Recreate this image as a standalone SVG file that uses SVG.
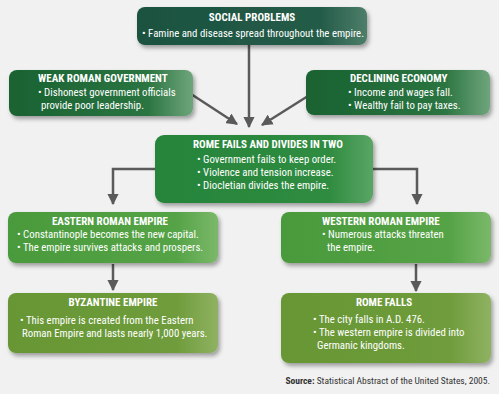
<svg xmlns="http://www.w3.org/2000/svg" width="499" height="394" viewBox="0 0 499 394">
<defs>
<linearGradient id="gTeal" x1="0" y1="0" x2="1" y2="0"><stop offset="0" stop-color="#1b5240"/><stop offset="0.8" stop-color="#245c48"/><stop offset="1" stop-color="#4d7e6a"/></linearGradient>
<linearGradient id="gDark" x1="0" y1="0" x2="1" y2="0"><stop offset="0" stop-color="#1a6232"/><stop offset="0.75" stop-color="#2a7440"/><stop offset="1" stop-color="#6fa57c"/></linearGradient>
<linearGradient id="gMid" x1="0" y1="0" x2="1" y2="0"><stop offset="0" stop-color="#25843a"/><stop offset="0.8" stop-color="#2f8c40"/><stop offset="1" stop-color="#5aa565"/></linearGradient>
<linearGradient id="gLight" x1="0" y1="0" x2="1" y2="0"><stop offset="0" stop-color="#4a9a3c"/><stop offset="0.8" stop-color="#55a346"/><stop offset="1" stop-color="#7bb86a"/></linearGradient>
<linearGradient id="gOlive" x1="0" y1="0" x2="1" y2="0"><stop offset="0" stop-color="#679634"/><stop offset="0.8" stop-color="#6f9c3b"/><stop offset="1" stop-color="#8fb262"/></linearGradient>
<filter id="sh" x="-10%" y="-10%" width="125%" height="140%"><feDropShadow dx="2" dy="3" stdDeviation="2" flood-color="#000" flood-opacity="0.35"/></filter>
<marker id="ah" viewBox="0 0 10 10" refX="9" refY="5" markerWidth="4.6" markerHeight="4.6" orient="auto" markerUnits="strokeWidth"><path d="M0,0 L10,5 L0,10 z" fill="#5a5a5a"/></marker>
</defs>
<style>
text{font-family:"Liberation Sans Narrow","Roboto Condensed","DejaVu Sans Condensed","Liberation Sans",sans-serif;fill:#ffffff;font-size:10.8px}
.t{font-weight:bold;font-size:11px}
.c{text-anchor:middle}
.box{filter:url(#sh)}
.con{stroke:#5a5a5a;stroke-width:2.5;fill:none;marker-end:url(#ah)}
.src{fill:#333333;font-size:9.5px}
</style>
<rect width="499" height="394" fill="#f1f1f1"/>
<g id="connectors">
<path class="con" d="M249,45 V127"/>
<path class="con" d="M191,94 L237,124"/>
<path class="con" d="M308,96 L262,125"/>
<path class="con" d="M156,169 H113 V204"/>
<path class="con" d="M372,169 H417 V204"/>
<path class="con" d="M113,264 V290"/>
<path class="con" d="M416,264 V291"/>
</g>
<g id="social">
<rect class="box" x="137" y="7" width="230" height="38" rx="8" fill="url(#gTeal)"/>
<text class="t c" x="252" y="21">SOCIAL PROBLEMS</text>
<text class="c" x="253" y="37">• Famine and disease spread throughout the empire.</text>
</g>
<g id="weak">
<rect class="box" x="9" y="70" width="184" height="46" rx="8" fill="url(#gDark)"/>
<text class="t" x="38" y="82">WEAK ROMAN GOVERNMENT</text>
<text x="38" y="96">• Dishonest government officials</text>
<text x="41" y="109">provide poor leadership.</text>
</g>
<g id="economy">
<rect class="box" x="306" y="70" width="184" height="45" rx="8" fill="url(#gDark)"/>
<text class="t" x="350" y="82">DECLINING ECONOMY</text>
<text x="348" y="96">• Income and wages fall.</text>
<text x="348" y="109">• Wealthy fail to pay taxes.</text>
</g>
<g id="rome-fails">
<rect class="box" x="155" y="135" width="218" height="68" rx="9" fill="url(#gMid)"/>
<text class="t" x="193" y="148">ROME FAILS AND DIVIDES IN TWO</text>
<text x="197" y="163">• Government fails to keep order.</text>
<text x="197" y="176">• Violence and tension increase.</text>
<text x="197" y="189">• Diocletian divides the empire.</text>
</g>
<g id="eastern">
<rect class="box" x="8" y="212" width="210" height="51" rx="8" fill="url(#gLight)"/>
<text class="t c" x="110" y="225">EASTERN ROMAN EMPIRE</text>
<text x="17" y="238">• Constantinople becomes the new capital.</text>
<text x="17" y="251">• The empire survives attacks and prospers.</text>
</g>
<g id="western">
<rect class="box" x="281" y="212" width="210" height="51" rx="8" fill="url(#gLight)"/>
<text class="t" x="322" y="225">WESTERN ROMAN EMPIRE</text>
<text x="322" y="238">• Numerous attacks threaten</text>
<text x="327" y="251">the empire.</text>
</g>
<g id="byzantine">
<rect class="box" x="8" y="293" width="210" height="60" rx="8" fill="url(#gOlive)"/>
<text class="t c" x="113" y="306">BYZANTINE EMPIRE</text>
<text x="20" y="324">• This empire is created from the Eastern</text>
<text x="22" y="337">Roman Empire and lasts nearly 1,000 years.</text>
</g>
<g id="rome-falls">
<rect class="box" x="281" y="293" width="210" height="70" rx="8" fill="url(#gOlive)"/>
<text class="t c" x="384" y="306">ROME FALLS</text>
<text x="313" y="323">• The city falls in A.D. 476.</text>
<text x="313" y="336">• The western empire is divided into</text>
<text x="317" y="349">Germanic kingdoms.</text>
</g>
<text class="src" x="490" y="384" text-anchor="end"><tspan font-weight="bold">Source:</tspan> Statistical Abstract of the United States, 2005.</text>
</svg>
